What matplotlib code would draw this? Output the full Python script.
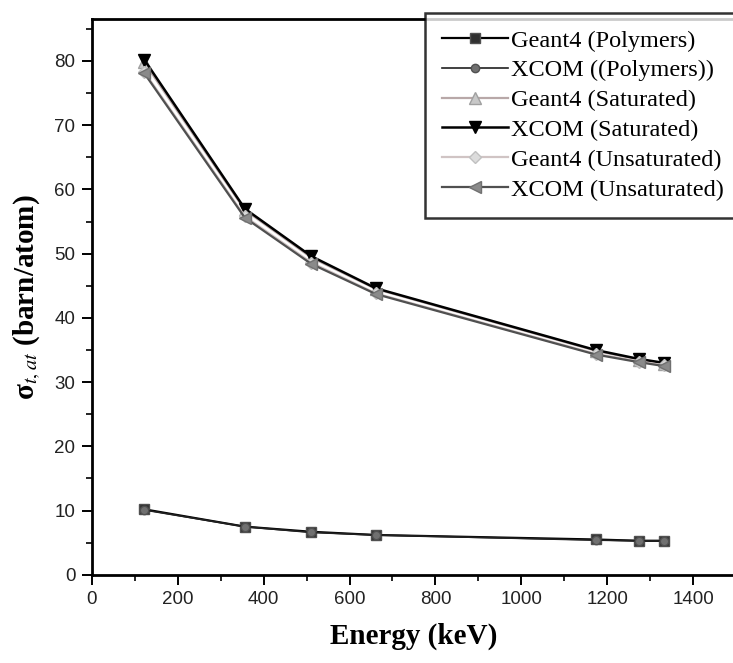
import matplotlib.pyplot as plt
from matplotlib.ticker import MultipleLocator

# photon energies (keV)
energy = [121.78, 356.0, 511.0, 661.66, 1173.2, 1274.5, 1332.5]

# total atomic cross sections (barn/atom)
g4_polymers = [10.2, 7.5, 6.7, 6.2, 5.5, 5.3, 5.3]
xcom_polymers = [10.1, 7.5, 6.6, 6.2, 5.4, 5.3, 5.3]
g4_saturated = [79.8, 56.8, 49.4, 44.5, 34.9, 33.5, 32.9]
xcom_saturated = [80.2, 57.0, 49.6, 44.6, 35.0, 33.6, 33.0]
g4_unsaturated = [78.3, 55.8, 48.6, 43.8, 34.4, 33.2, 32.6]
xcom_unsaturated = [78.1, 55.6, 48.4, 43.7, 34.3, 33.1, 32.5]

tick_font = "Liberation Sans"
serif_font = "Liberation Serif"
plt.rcParams["mathtext.fontset"] = "stix"

fig = plt.figure(figsize=(7.33, 6.63), dpi=100)
# right spine sits just past the image edge, as in the scan
ax = fig.add_axes([0.1255, 0.133, 0.8785, 0.838])

ax.plot(energy, g4_polymers, color="black", lw=1.6, marker="s", ms=7,
        mfc="#303030", mec="#505050", label="Geant4 (Polymers)")
ax.plot(energy, xcom_polymers, color="#202020", lw=1.2, marker="o", ms=6,
        mfc="#707070", mec="#505050", label="XCOM ((Polymers))")
ax.plot(energy, g4_saturated, color="#b8a8a8", lw=1.6, marker="^", ms=8,
        mfc="#c8c8c8", mec="#a0a0a0", label="Geant4 (Saturated)")
ax.plot(energy, xcom_saturated, color="black", lw=1.8, marker="v", ms=9,
        mfc="black", mec="black", label="XCOM (Saturated)")
ax.plot(energy, g4_unsaturated, color="#d0c4c4", lw=1.6, marker="D", ms=6,
        mfc="#dcdcdc", mec="#c0c0c0", label="Geant4 (Unsaturated)")
ax.plot(energy, xcom_unsaturated, color="#505050", lw=1.6, marker="<", ms=9,
        mfc="#8a8a8a", mec="#707070", label="XCOM (Unsaturated)")

ax.set_xlim(0, 1500)
ax.set_ylim(0, 86.5)
ax.xaxis.set_major_locator(MultipleLocator(200))
ax.xaxis.set_minor_locator(MultipleLocator(100))
ax.yaxis.set_major_locator(MultipleLocator(10))
ax.yaxis.set_minor_locator(MultipleLocator(5))
ax.set_xticks([0, 200, 400, 600, 800, 1000, 1200, 1400])

for side in ["left", "bottom", "top", "right"]:
    ax.spines[side].set_linewidth(2)
ax.tick_params(which="major", direction="out", length=7, width=1.4,
               labelsize=13.5, pad=5)
ax.tick_params(which="minor", direction="out", length=4, width=1.2)
for lbl in ax.get_xticklabels() + ax.get_yticklabels():
    lbl.set_fontfamily(tick_font)
    lbl.set_color("#222222")

ax.set_xlabel("Energy (keV)", fontfamily=serif_font, fontweight="bold",
              fontsize=21, labelpad=10)
ax.set_ylabel("σ$_{t,at}$ (barn/atom)", fontfamily=serif_font,
              fontweight="bold", fontsize=21, labelpad=8)

leg = ax.legend(loc="upper right", bbox_to_anchor=(1.008, 1.012),
                prop={"family": serif_font, "size": 17.5},
                frameon=True, fancybox=False, edgecolor="black",
                handlelength=2.7, handletextpad=0.15, labelspacing=0.32,
                borderpad=0.7, borderaxespad=0)
leg.get_frame().set_linewidth(1.8)

fig.savefig("out.png", dpi=100)
